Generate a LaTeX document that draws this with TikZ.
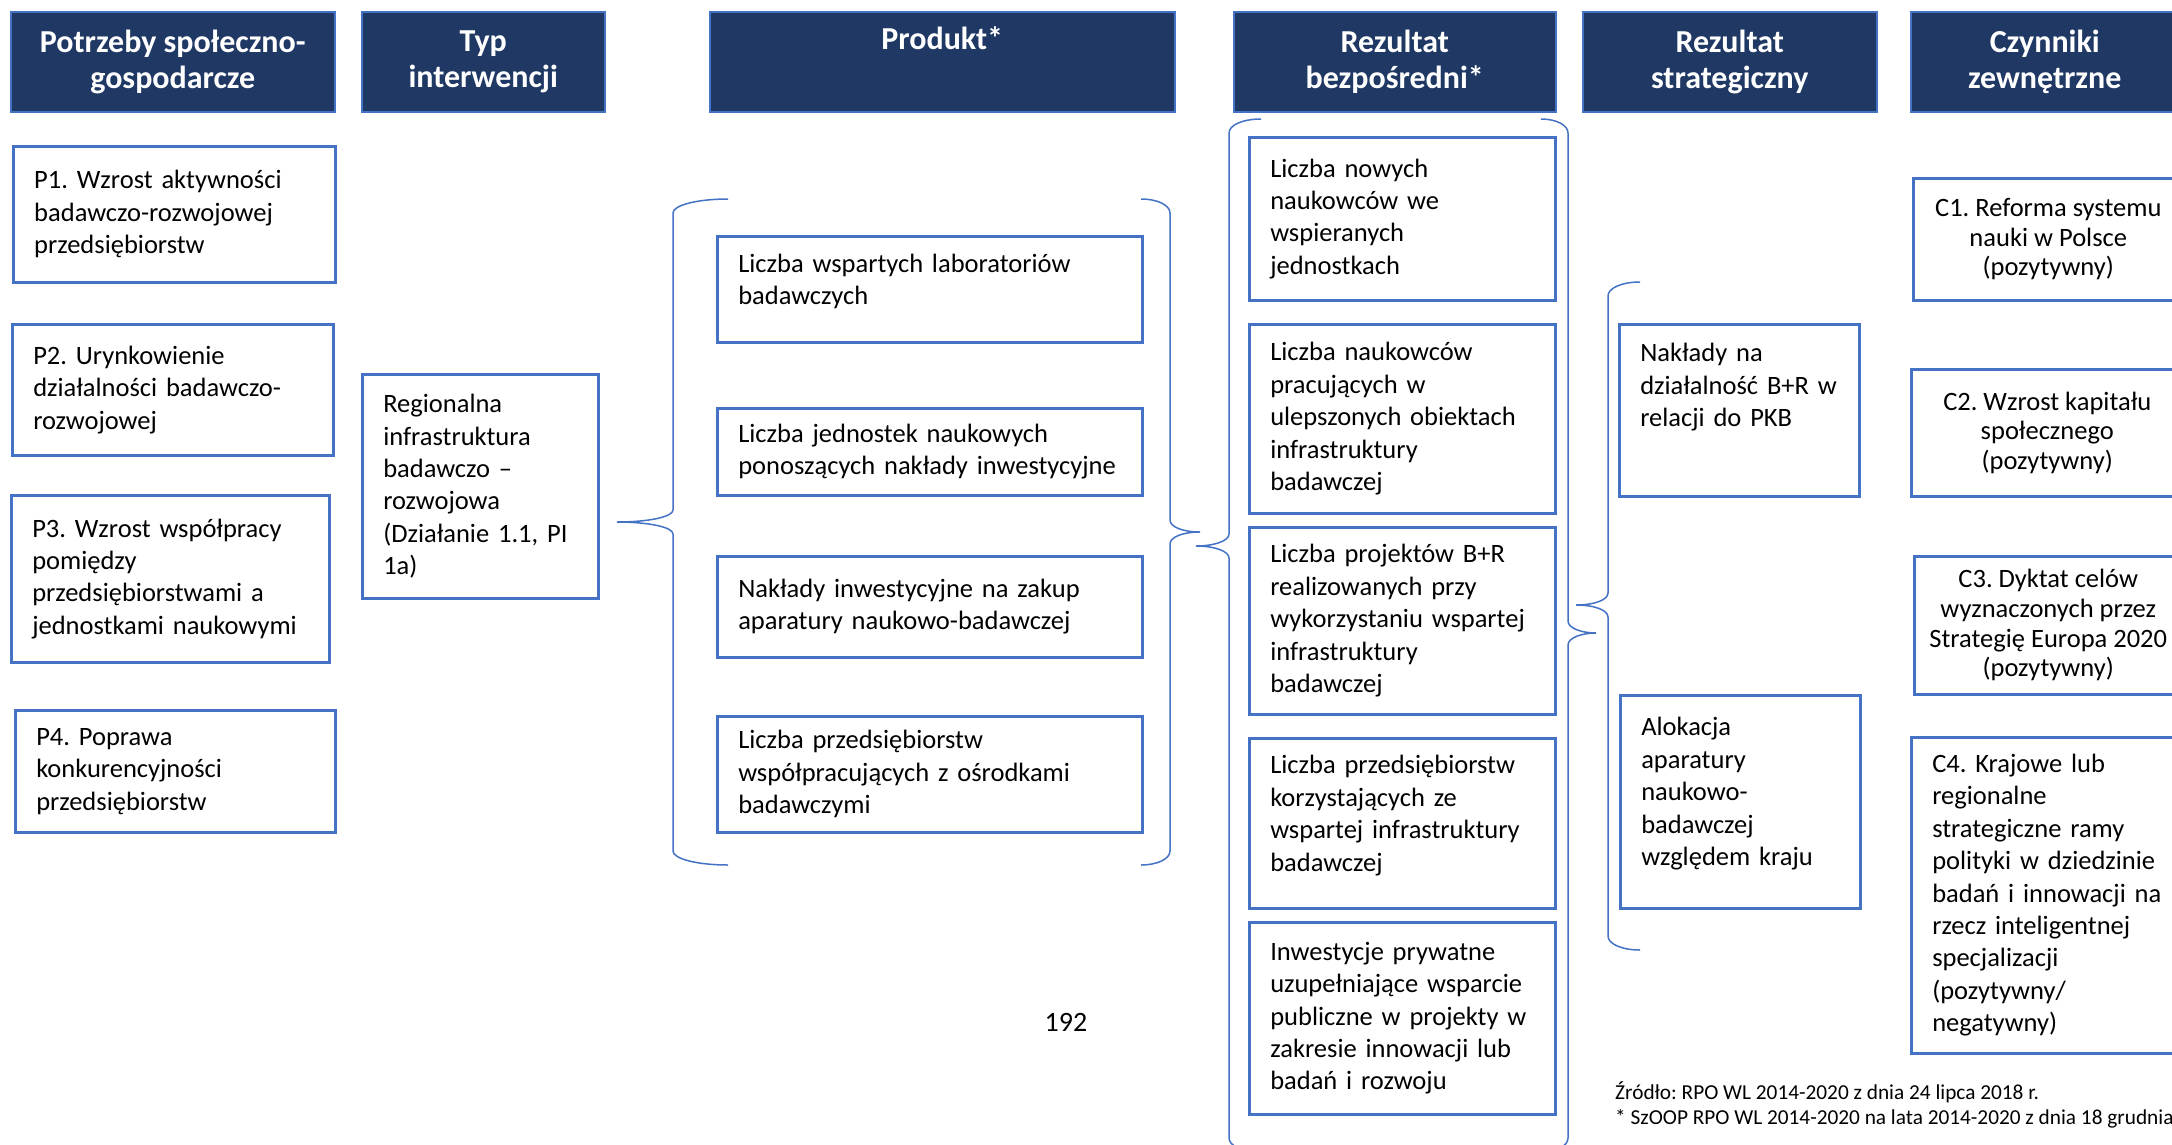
\documentclass[tikz,border=0pt]{standalone}
\usepackage{fontspec}
\setmainfont{Carlito}
\frenchspacing
\definecolor{navy}{HTML}{203864}
\definecolor{frame}{HTML}{4472C4}

\begin{document}
\begin{tikzpicture}[x=1pt, y=-1pt,
  head/.style={draw=frame, line width=1.5pt, fill=navy, text=white,
    anchor=north west, align=center, minimum height=100pt, inner sep=0pt,
    font=\fontsize{32}{36.5}\selectfont\bfseries},
  box/.style={draw=frame, line width=2.5pt, anchor=north west, align=left,
    inner xsep=21pt, inner ysep=4pt, font=\fontsize{26.5}{32.4}\selectfont},
  cbox/.style={box, align=center, inner xsep=6pt,
    font=\fontsize{26.5}{29.6}\selectfont},
  brc/.style={frame, line width=1.5pt}]
\path[use as bounding box, fill=white] (0,0) rectangle (2172,1144);
\clip (0,0) rectangle (2172,1144);

\node[head, minimum width=324pt] (hneed) at (10,11) {Potrzeby społeczno-\\gospodarcze};
\node[head, minimum width=243pt] (htyp) at (361,11) {Typ\\interwencji};
\node[head, minimum width=465pt] (hprod) at (709,11) {Produkt*\\\strut};
\node[head, minimum width=322pt] (hdir) at (1233,11) {Rezultat\\bezpośredni*};
\node[head, minimum width=294pt] (hstrat) at (1582,11) {Rezultat\\strategiczny};
\node[head, minimum width=268pt] (hext) at (1910,11) {Czynniki\\zewnętrzne};

\node[box, text width=280pt, minimum height=136pt] (p1) at (12,145)
  {P1. Wzrost aktywności\\badawczo-rozwojowej\\przedsiębiorstw};
\node[box, text width=279pt, minimum height=131pt] (p2) at (11,323)
  {P2. Urynkowienie\\działalności badawczo-\\rozwojowej};
\node[box, text width=276pt, minimum height=167pt] (p3) at (10,494)
  {P3. Wzrost współpracy\\pomiędzy\\przedsiębiorstwami a\\jednostkami naukowymi};
\node[box, text width=278pt, minimum height=122pt] (p4) at (14,709)
  {P4. Poprawa\\konkurencyjności\\przedsiębiorstw};

\node[box, text width=194pt, minimum height=224pt] (typ) at (361,373)
  {Regionalna\\infrastruktura\\badawczo –\\rozwojowa\\(Działanie 1.1, PI\\1a)};

\node[box, text width=383pt, minimum height=106pt, text depth=52pt] (prod1) at (716,235)
  {Liczba wspartych laboratoriów\\badawczych};
\node[box, text width=383pt, minimum height=87pt] (prod2) at (716,407)
  {Liczba jednostek naukowych\\ponoszących nakłady inwestycyjne};
\node[box, text width=383pt, minimum height=101pt] (prod3) at (716,555)
  {Nakłady inwestycyjne na zakup\\aparatury naukowo-badawczej};
\node[box, text width=383pt, minimum height=116pt] (prod4) at (716,715)
  {Liczba przedsiębiorstw\\współpracujących z ośrodkami\\badawczymi};

\node[box, text width=264pt, minimum height=163pt] (dir1) at (1248,136)
  {Liczba nowych\\naukowców we\\wspieranych\\jednostkach};
\node[box, text width=264pt, minimum height=189pt] (dir2) at (1248,323)
  {Liczba naukowców\\pracujących w\\ulepszonych obiektach\\infrastruktury\\badawczej};
\node[box, text width=264pt, minimum height=187pt] (dir3) at (1248,526)
  {Liczba projektów B+R\\realizowanych przy\\wykorzystaniu wspartej\\infrastruktury\\badawczej};
\node[box, text width=264pt, minimum height=170pt, text depth=117pt] (dir4) at (1248,737)
  {Liczba przedsiębiorstw\\korzystających ze\\wspartej infrastruktury\\badawczej};
\node[box, text width=264pt, minimum height=192pt] (dir5) at (1248,921)
  {Inwestycje prywatne\\uzupełniające wsparcie\\publiczne w projekty w\\zakresie innowacji lub\\badań i rozwoju};

\node[box, text width=198pt, minimum height=172pt, text depth=115pt] (strat1) at (1618,323)
  {Nakłady na\\działalność B+R w\\relacji do PKB};
\node[box, text width=198pt, minimum height=213pt, text depth=150pt] (strat2) at (1619,694)
  {Alokacja\\aparatury\\naukowo-\\badawczej\\względem kraju};

\node[cbox, minimum width=270pt, minimum height=122pt] (ext1) at (1912,177)
  {C1. Reforma systemu\\nauki w Polsce\\(pozytywny)};
\node[cbox, minimum width=272pt, minimum height=127pt] (ext2) at (1910,368)
  {C2. Wzrost kapitału\\społecznego\\(pozytywny)};
\node[cbox, minimum width=268pt, minimum height=138pt] (ext3) at (1913,555)
  {C3. Dyktat celów\\wyznaczonych przez\\Strategię Europa 2020\\(pozytywny)};
\node[box, text width=230pt, minimum height=316pt] (ext4) at (1910,736)
  {C4. Krajowe lub\\regionalne\\strategiczne ramy\\polityki w dziedzinie\\badań i innowacji na\\rzecz inteligentnej\\specjalizacji\\(pozytywny/\\negatywny)};

\draw[brc] (728,199) .. controls (698,199) and (673,205) .. (673,213)
  -- (673,510) .. controls (673,517) and (648,522) .. (617,522)
  .. controls (648,522) and (673,527) .. (673,534)
  -- (673,851) .. controls (673,859) and (698,865) .. (728,865);
\draw[brc] (1141,199) .. controls (1157,199) and (1170,205) .. (1170,213)
  -- (1170,520) .. controls (1170,527) and (1183,532) .. (1200,532)
  .. controls (1183,532) and (1170,537) .. (1170,544)
  -- (1170,851) .. controls (1170,859) and (1157,865) .. (1141,865);
\draw[brc] (1261,119) .. controls (1243,119) and (1229,125) .. (1229,133)
  -- (1229,534) .. controls (1229,541) and (1214,546) .. (1196,546)
  .. controls (1214,546) and (1229,551) .. (1229,558)
  -- (1229,1138) .. controls (1229,1146) and (1243,1152) .. (1261,1152);
\draw[brc] (1541,119) .. controls (1556,119) and (1568,125) .. (1568,133)
  -- (1568,621) .. controls (1568,628) and (1581,633) .. (1596,633)
  .. controls (1581,633) and (1568,638) .. (1568,645)
  -- (1568,1138) .. controls (1568,1146) and (1556,1152) .. (1541,1152);
\draw[brc] (1640,282) .. controls (1622,282) and (1608,288) .. (1608,296)
  -- (1608,593) .. controls (1608,600) and (1594,605) .. (1576,605)
  .. controls (1594,605) and (1608,610) .. (1608,617)
  -- (1608,936) .. controls (1608,944) and (1622,950) .. (1640,950);

\node[font=\fontsize{28}{34}\selectfont] (page) at (1066,1022) {192};
\node[anchor=north west, align=left, inner sep=0pt,
  font=\fontsize{21.3}{25.5}\selectfont] (src) at (1615,1081)
  {Źródło: RPO WL 2014-2020 z dnia 24 lipca 2018 r.\\{}* SzOOP RPO WL 2014-2020 na lata 2014-2020 z dnia 18 grudnia};
\end{tikzpicture}
\end{document}
